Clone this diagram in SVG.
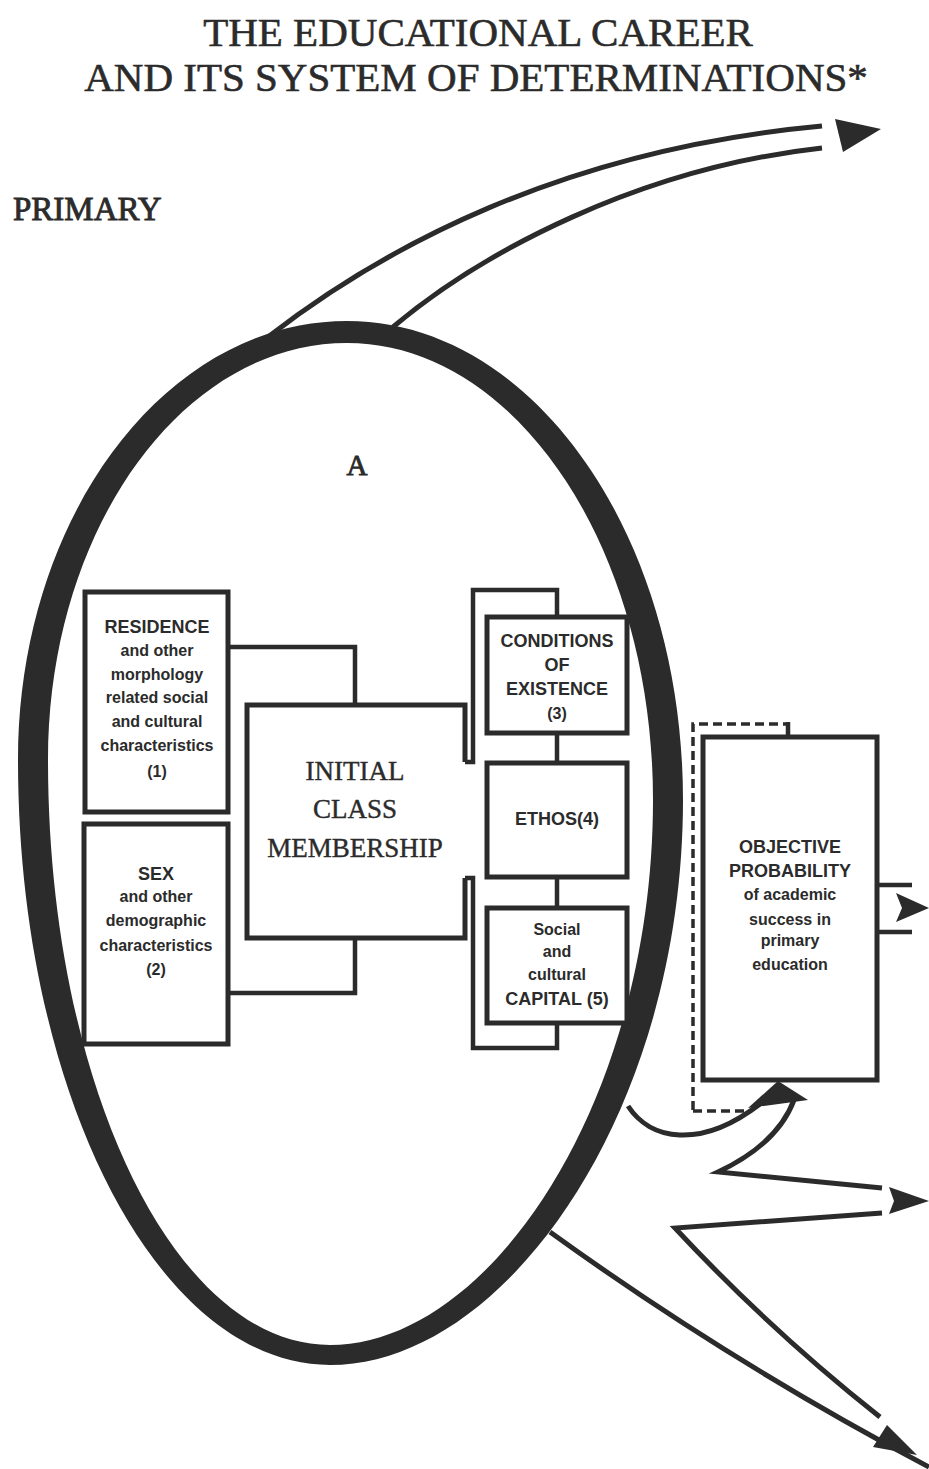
<svg xmlns="http://www.w3.org/2000/svg" width="929" height="1469" viewBox="0 0 929 1469">
  <style>
    .ttl { font-family: "Liberation Serif", "Times New Roman", serif; font-size: 41px; fill: #2b2b2b; stroke: #2b2b2b; stroke-width: 0.6; text-anchor: middle; }
    .lbl { font-family: "Liberation Serif", "Times New Roman", serif; fill: #2b2b2b; stroke: #2b2b2b; stroke-width: 0.9; }
    .box { fill: #ffffff; stroke: #2b2b2b; stroke-width: 5; }
    .cap { font-family: "Liberation Sans", Arial, sans-serif; font-weight: bold; font-size: 18px; fill: #2b2b2b; text-anchor: middle; }
    .low { font-family: "Liberation Sans", Arial, sans-serif; font-weight: bold; font-size: 16px; fill: #2b2b2b; text-anchor: middle; }
    .big { font-family: "Liberation Serif", "Times New Roman", serif; font-size: 27px; fill: #2b2b2b; stroke: #2b2b2b; stroke-width: 0.4; text-anchor: middle; }
    .ln { fill: none; stroke: #2b2b2b; stroke-width: 4.5; stroke-linejoin: miter; }
    .flow { fill: none; stroke: #2b2b2b; stroke-width: 5; stroke-linecap: butt; stroke-linejoin: miter; }
    .dash { fill: none; stroke: #2b2b2b; stroke-width: 3.5; stroke-dasharray: 9 5; }
    .head { fill: #2b2b2b; stroke: none; }
  </style>

  <rect x="0" y="0" width="929" height="1469" fill="#ffffff"/>

  <!-- headings -->
  <text class="ttl" x="478" y="46">THE EDUCATIONAL CAREER</text>
  <text class="ttl" x="476" y="91">AND ITS SYSTEM OF DETERMINATIONS*</text>
  <text class="lbl" x="13" y="220" font-size="33">PRIMARY</text>

  <!-- the thick egg-shaped ring A -->
  <g id="ringA">
    <path fill="#2b2b2b" fill-rule="evenodd" d="
      M 347,321 C 533,321 683,535 683,800 C 683,1112 505,1365 330,1365 C 158,1365 18,1094 18,760 C 18,518 165,321 347,321 Z
      M 347,343 C 516,343 653,548 653,800 C 653,1101 490,1345 330,1345 C 174,1345 48,1083 48,760 C 48,530 182,343 347,343 Z"/>
    <text class="lbl" x="357" y="475" font-size="29" text-anchor="middle">A</text>
  </g>

  <!-- connectors -->
  <g id="connectors">
    <!-- left feeders into initial class membership -->
    <path class="ln" d="M 228,647 H 355 V 705"/>
    <path class="ln" d="M 228,993 H 355 V 938"/>
    <!-- right bracket holding the three factors -->
    <path class="ln" d="M 465,762 H 473 V 590 H 557 V 617"/>
    <path class="ln" d="M 465,878 H 473 V 1048 H 557 V 1023"/>
    <path class="ln" d="M 557,733 V 763"/>
    <path class="ln" d="M 557,877 V 908"/>

    <!-- outgoing stream at the top -->
    <path class="flow" d="M 268,337 C 380,250 560,150 822,126"/>
    <path class="flow" d="M 393,327 C 482,252 640,168 822,148"/>
    <polygon class="head" points="835,119 881,129 843,152"/>

    <!-- dashed link around the probability box -->
    <path class="dash" d="M 693,1110 V 724 H 787"/>
    <path class="ln" d="M 788,722 V 737"/>
    <path class="dash" d="M 693,1111 H 752"/>

    <!-- stream from A into the probability box -->
    <path class="flow" d="M 628,1106 C 650,1140 700,1150 760,1104"/>
    <path class="flow" d="M 794,1100 C 782,1132 752,1156 718,1172 L 882,1188"/>
    <polygon class="head" points="748,1108 778,1081 808,1100"/>

    <!-- middle outgoing stream -->
    <path class="flow" d="M 882,1213 L 675,1228 Q 770,1330 880,1417"/>
    <polygon class="head" points="889,1187 929,1201 889,1214 894,1201"/>

    <!-- lowest outgoing stream -->
    <path class="flow" d="M 550,1232 Q 730,1362 929,1467"/>
    <polygon class="head" points="887,1425 917,1455 873,1447"/>

    <!-- exit of the probability box -->
    <path class="ln" d="M 877,885 H 912 M 877,932 H 912"/>
    <polygon class="head" points="896,893 929,908 896,922 902,908"/>
  </g>

  <!-- factor boxes -->
  <g id="residence">
    <rect class="box" x="85" y="592" width="143" height="220"/>
    <text class="cap" x="157" y="633">RESIDENCE</text>
    <text class="low" x="157" y="656">and other</text>
    <text class="low" x="157" y="680">morphology</text>
    <text class="low" x="157" y="703">related social</text>
    <text class="low" x="157" y="727">and cultural</text>
    <text class="low" x="157" y="751">characteristics</text>
    <text class="low" x="157" y="777">(1)</text>
  </g>

  <g id="sex">
    <rect class="box" x="84" y="824" width="144" height="220"/>
    <text class="cap" x="156" y="880">SEX</text>
    <text class="low" x="156" y="902">and other</text>
    <text class="low" x="156" y="926">demographic</text>
    <text class="low" x="156" y="951">characteristics</text>
    <text class="low" x="156" y="975">(2)</text>
  </g>

  <g id="initial-class">
    <path class="box" fill="#ffffff" d="M 465,762 V 705 H 247 V 938 H 465 V 878"/>
    <text class="big" x="355" y="780">INITIAL</text>
    <text class="big" x="355" y="818">CLASS</text>
    <text class="big" x="355" y="857">MEMBERSHIP</text>
  </g>

  <g id="conditions">
    <rect class="box" x="487" y="617" width="140" height="116"/>
    <text class="cap" x="557" y="647">CONDITIONS</text>
    <text class="cap" x="557" y="671">OF</text>
    <text class="cap" x="557" y="695">EXISTENCE</text>
    <text class="low" x="557" y="719">(3)</text>
  </g>

  <g id="ethos">
    <rect class="box" x="487" y="763" width="140" height="114"/>
    <text class="cap" x="557" y="825">ETHOS(4)</text>
  </g>

  <g id="capital">
    <rect class="box" x="487" y="908" width="140" height="115"/>
    <text class="low" x="557" y="935">Social</text>
    <text class="low" x="557" y="957">and</text>
    <text class="low" x="557" y="980">cultural</text>
    <text class="cap" x="557" y="1005">CAPITAL (5)</text>
  </g>

  <g id="objective-probability">
    <rect class="box" x="703" y="737" width="174" height="343"/>
    <text class="cap" x="790" y="853">OBJECTIVE</text>
    <text class="cap" x="790" y="877">PROBABILITY</text>
    <text class="low" x="790" y="900">of academic</text>
    <text class="low" x="790" y="925">success in</text>
    <text class="low" x="790" y="946">primary</text>
    <text class="low" x="790" y="970">education</text>
  </g>
</svg>
